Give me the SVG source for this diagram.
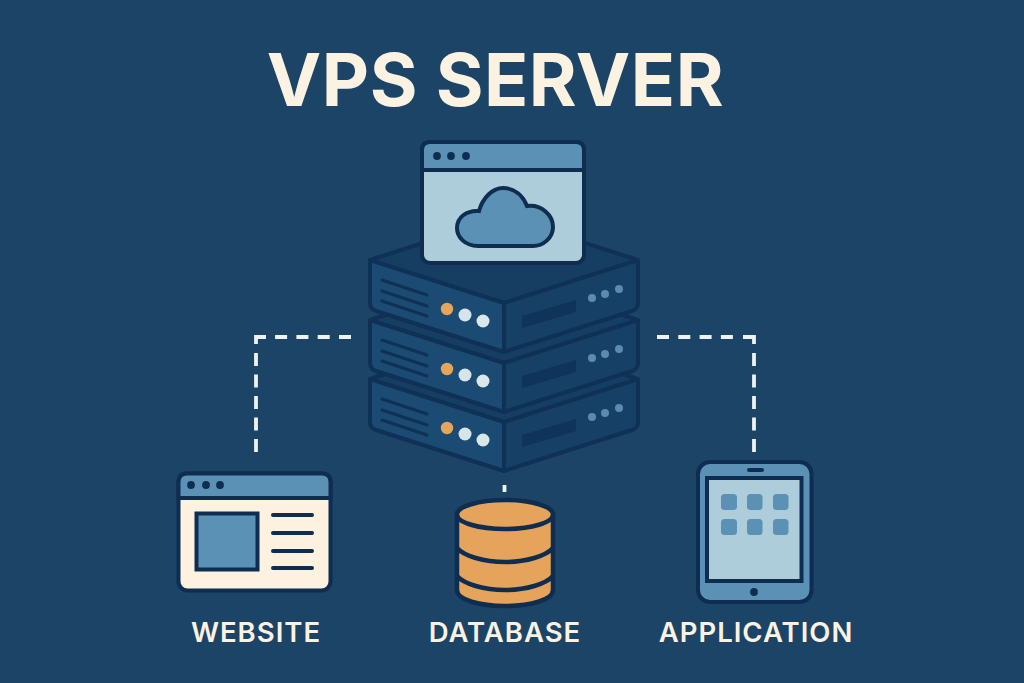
<svg xmlns="http://www.w3.org/2000/svg" width="1024" height="683" viewBox="0 0 1024 683">
<style>
.ol{stroke:#0f3156;stroke-width:4;stroke-linejoin:round;stroke-linecap:round}
.top{fill:#163d62}.left{fill:#1b4a72}.right{fill:#174066}
.vent{stroke:#0f3156;stroke-width:3;stroke-linecap:round;fill:none}
.slot{fill:#0f3359}.led{fill:#5d8bae}
.dash{fill:none;stroke:#eef2f0;stroke-width:3.8}
.lab{font-family:"Inter","Liberation Sans",sans-serif;font-weight:600;fill:#fbf2e2;font-size:27.5px;letter-spacing:1px;text-anchor:middle}
.dot{fill:#0e2d50}
.ln{stroke:#0e2d50;stroke-width:4;stroke-linecap:round}
.edge{stroke:#0e2d50;stroke-width:4}
.blue{fill:#5b91b4}.pale{fill:#aecddb}
</style>
<defs>
<g id="unit">
<path class="ol top" d="M504 217L632 258Q638 260 638 262L504 303L370 262Q370 260 376 258Z"/>
<path class="ol left" d="M370 260L504 303V352L376 311Q370 309 370 303Z"/>
<path class="ol right" d="M638 260L504 303V352L632 311Q638 309 638 303Z"/>
<path class="vent" d="M382 280L427 295M382 291L427 306M382 301L427 316"/>
<circle cx="447" cy="309" r="6.2" fill="#e7a55c"/><circle cx="465" cy="315" r="6.5" fill="#d5e5ea"/><circle cx="483" cy="321" r="6.5" fill="#dbe8ea"/>
<path class="slot" d="M522 316L576 300V312L522 328Z"/>
<circle class="led" cx="592" cy="298" r="4"/><circle class="led" cx="605" cy="294" r="4"/><circle class="led" cx="619" cy="289" r="4"/>
</g>
</defs>
<rect width="1024" height="683" fill="#1b4467"/>
<text x="495.500" y="106" font-family="Inter,'Liberation Sans',sans-serif" font-weight="700" font-size="73" letter-spacing="0.500" fill="#fbf2e2" text-anchor="middle">VPS SERVER</text>
<g id="connectors">
<path class="dash" stroke-dasharray="12 9.300" d="M351 337H275"/>
<path class="dash" d="M266 337H256V344"/>
<path class="dash" stroke-dasharray="13 8.500" d="M256 353V452"/>
<path class="dash" stroke-dasharray="12 9.300" d="M657 337H734"/>
<path class="dash" d="M743 337H754V344"/>
<path class="dash" stroke-dasharray="13 8.500" d="M754 353V452"/>
<path class="dash" d="M504.500 485V492"/>
</g>
<g id="server-stack">
<use href="#unit" y="119"/><use href="#unit" y="60"/><use href="#unit"/>
</g>
<g id="cloud-window">
<rect x="422" y="142" width="162" height="121" rx="8" class="pale edge"/>
<path d="M422 170V150Q422 142 430 142H576Q584 142 584 150V170Z" class="blue edge"/>
<circle class="dot" cx="437" cy="156" r="3.9"/><circle class="dot" cx="451" cy="156" r="3.9"/><circle class="dot" cx="466" cy="156" r="3.9"/>
<path d="M478 246C465 246 457 237 457 228C457 217 467 210 479 211C483 197 493 188 503 188C515 188 523 196 527 206C541 204 553 215 553 227C553 238 543 246 533 246Z" class="blue edge"/>
</g>
<g id="website">
<rect x="178.500" y="473.500" width="152" height="117" rx="9" fill="#fdf1df" class="edge"/>
<path d="M178.500 498V482Q178.500 473.500 187 473.500H322Q330.500 473.500 330.500 482V498Z" class="blue edge"/>
<circle class="dot" cx="191" cy="485" r="3.9"/><circle class="dot" cx="206" cy="485" r="3.9"/><circle class="dot" cx="220" cy="485" r="3.9"/>
<rect x="196.500" y="513.500" width="61" height="56" class="blue edge"/>
<path class="ln" d="M273 515H312M273 533H312M273 551H312M273 568H312"/>
<text class="lab" x="256" y="642">WEBSITE</text>
</g>
<g id="database">
<path d="M457 514V590C457 600 480 606 505 606C530 606 553 600 553 590V514Z" fill="#e5a35b" stroke="#0e2d50" stroke-width="4.500"/>
<ellipse cx="505" cy="514.500" rx="48" ry="14.500" fill="#e5a35b" stroke="#0e2d50" stroke-width="4.500"/>
<path d="M457 548C464 556 484 562 505 562C526 562 546 556 553 548M457 576C464 584 484 590 505 590C526 590 546 584 553 576" fill="none" stroke="#0e2d50" stroke-width="4.500"/>
<text class="lab" x="505" y="642">DATABASE</text>
</g>
<g id="application">
<rect x="698" y="462" width="113.500" height="140" rx="12" class="blue edge"/>
<rect x="707" y="478" width="94.500" height="103" class="pale edge"/>
<rect x="747" y="468" width="17" height="4" rx="2" class="dot"/>
<circle class="dot" cx="754" cy="592" r="3.900"/>
<g class="blue"><rect x="721" y="494" width="16" height="16" rx="3.500"/><rect x="747" y="494" width="15.500" height="16" rx="3.500"/><rect x="773" y="494" width="15.500" height="16" rx="3.500"/><rect x="721" y="519" width="16" height="16" rx="3.500"/><rect x="747" y="519" width="15.500" height="16" rx="3.500"/><rect x="773" y="519" width="15.500" height="16" rx="3.500"/></g>
<text class="lab" x="756" y="642">APPLICATION</text>
</g>
</svg>
